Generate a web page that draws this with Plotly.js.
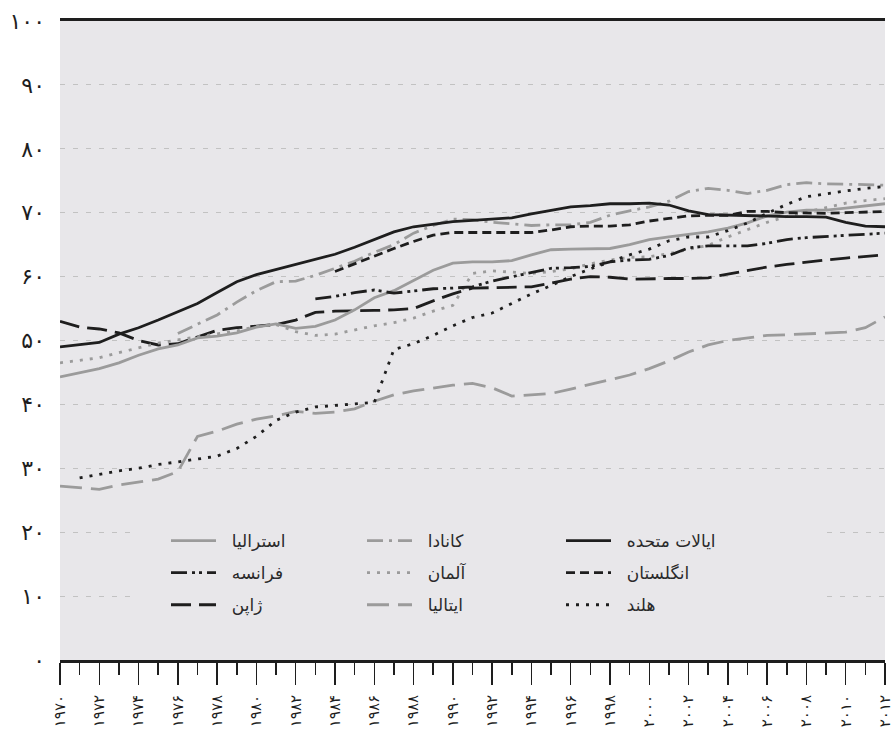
<!DOCTYPE html>
<html>
<head>
<meta charset="utf-8">
<script src="https://cdn.plot.ly/plotly-3.0.1.min.js"></script>
<style>
  html, body { margin: 0; padding: 0; background: #ffffff; }
  #chart { width: 893px; height: 742px; }
</style>
</head>
<body>
<div id="chart"></div>
<script>
// ---- Data ----
const years = [1970,1971,1972,1973,1974,1975,1976,1977,1978,1979,
               1980,1981,1982,1983,1984,1985,1986,1987,1988,1989,
               1990,1991,1992,1993,1994,1995,1996,1997,1998,1999,
               2000,2001,2002,2003,2004,2005,2006,2007,2008,2009,
               2010,2011,2012];

const australia = [44.3,44.9,45.6,46.5,47.7,48.7,49.3,50.4,50.7,51.2,
                   52.1,52.6,51.9,52.2,53.2,54.8,56.7,57.8,59.4,61.0,
                   62.1,62.3,62.3,62.5,63.4,64.2,64.3,64.3,64.4,65.0,
                   65.8,66.2,66.6,67.0,67.6,68.4,69.5,70.1,70.4,70.4,
                   70.7,71.1,71.4];
const canada = [null,null,null,null,null,null,51.1,52.6,54.0,56.0,
                57.8,59.2,59.3,60.2,61.3,62.4,63.8,65.0,66.8,68.0,
                69.0,68.9,68.5,68.2,68.0,68.1,68.1,68.5,69.6,70.3,
                70.9,71.8,73.3,73.8,73.5,73.0,73.5,74.4,74.7,74.5,
                74.5,74.4,74.3];
const usa = [49.0,49.3,49.7,51.0,52.0,53.2,54.5,55.8,57.5,59.2,
             60.3,61.1,61.8,62.6,63.5,64.6,65.8,67.0,67.8,68.2,
             68.6,68.8,69.0,69.2,69.8,70.4,70.9,71.1,71.4,71.4,
             71.5,71.2,70.3,69.7,69.6,69.5,69.4,69.4,69.4,69.3,
             68.5,67.9,67.8];
const france = [null,null,null,null,null,null,null,null,null,null,
                null,null,null,56.5,56.9,57.5,57.9,57.4,57.8,58.1,
                58.2,58.4,59.3,60.0,60.7,61.3,61.4,61.6,62.3,62.6,
                62.7,63.3,64.5,64.8,64.8,64.8,65.2,65.8,66.1,66.3,
                66.5,66.6,66.8];
const germany = [46.5,46.9,47.3,48.1,48.9,49.6,50.1,50.6,51.0,51.5,
                 52.2,52.5,51.4,50.8,51.0,51.7,52.3,52.8,53.5,54.6,
                 55.5,60.5,60.9,60.7,60.5,60.8,61.2,62.0,62.6,63.0,
                 63.1,63.6,64.2,64.9,66.2,67.4,68.5,69.4,70.1,70.8,
                 71.5,71.9,72.2];
const uk = [null,null,null,null,null,null,null,null,null,null,
            null,null,null,null,60.8,62.0,63.3,64.4,65.5,66.5,
            66.9,66.9,66.9,66.9,66.9,67.3,67.8,67.9,67.9,68.1,
            68.7,69.1,69.5,69.6,69.6,70.2,70.2,70.0,69.9,69.9,
            70.0,70.1,70.2];
const japan = [53.0,52.1,51.8,51.2,50.0,49.3,49.5,50.6,51.6,52.0,
               52.2,52.5,53.2,54.4,54.6,54.6,54.7,54.8,55.0,56.2,
               57.3,58.2,58.3,58.3,58.4,59.0,59.6,60.0,59.9,59.6,
               59.7,59.7,59.7,59.8,60.4,61.0,61.5,61.9,62.3,62.6,
               62.9,63.2,63.4];
const italy = [27.2,26.9,26.7,27.4,27.9,28.3,29.5,35.0,35.8,36.9,
               37.7,38.2,38.9,38.6,38.8,39.3,40.5,41.5,42.1,42.6,
               43.0,43.3,42.6,41.3,41.5,41.7,42.4,43.1,43.8,44.6,
               45.6,46.8,48.2,49.3,50.0,50.4,50.8,50.9,51.0,51.2,
               51.3,52.0,53.7];
const netherlands = [null,28.5,29.1,29.6,30.0,30.6,31.0,31.4,31.9,33.1,
                     35.0,37.5,38.8,39.6,39.8,40.0,40.3,48.6,49.5,50.8,
                     52.3,53.6,54.3,55.8,57.3,58.6,60.0,61.2,62.3,63.4,
                     64.3,65.6,66.2,66.2,67.2,68.4,69.9,71.3,72.5,73.0,
                     73.4,73.8,74.1];

const seriesNames = ['استرالیا','کانادا','ایالات متحده','فرانسه','آلمان','انگلستان','ژاپن','ایتالیا','هلند'];

const xTickVals = [1970,1972,1974,1976,1978,1980,1982,1984,1986,1988,1990,
                   1992,1994,1996,1998,2000,2002,2004,2006,2008,2010,2012];
const xTickText = ['۱۹۷۰','۱۹۷۲','۱۹۷۴','۱۹۷۶','۱۹۷۸','۱۹۸۰','۱۹۸۲','۱۹۸۴','۱۹۸۶','۱۹۸۸','۱۹۹۰',
                   '۱۹۹۲','۱۹۹۴','۱۹۹۶','۱۹۹۸','۲۰۰۰','۲۰۰۲','۲۰۰۴','۲۰۰۶','۲۰۰۸','۲۰۱۰','۲۰۱۲'];
const yTickVals = [0,10,20,30,40,50,60,70,80,90,100];
const yTickText = ['۰','۱۰','۲۰','۳۰','۴۰','۵۰','۶۰','۷۰','۸۰','۹۰','۱۰۰'];

// ---- Styles ----
const BLACK = '#1e1e1e';
const GRAY = '#9b9b9b';
const PLOTBG = '#e8e7ea';
const FONT = 'DejaVu Sans';

function tr(name, y, color, dash, legend, width) {
  return {
    type: 'scatter', mode: 'lines', name: '\u00a0\u00a0' + name, x: years, y: y,
    line: {color: color, width: width || 2.8, dash: dash},
    legend: legend, legendgroup: name, connectgaps: false,
    hoverinfo: 'x+y+name'
  };
}

const data = [
  tr(seriesNames[7], italy, GRAY, '22px,9px', 'legend2'),
  tr(seriesNames[6], japan, BLACK, '20px,8px', 'legend'),
  tr(seriesNames[0], australia, GRAY, 'solid', 'legend'),
  tr(seriesNames[4], germany, GRAY, '3px,7px', 'legend2'),
  tr(seriesNames[1], canada, GRAY, '16px,6px,3px,6px', 'legend2'),
  tr(seriesNames[3], france, BLACK, '16px,5px,3px,4px,3px,5px', 'legend'),
  tr(seriesNames[5], uk, BLACK, '9px,5px', 'legend3'),
  tr(seriesNames[8], netherlands, BLACK, '3px,7px', 'legend3'),
  tr(seriesNames[2], usa, BLACK, 'solid', 'legend3')
];

// legend column order (top to bottom)
const order = {
  legend: [seriesNames[0], seriesNames[3], seriesNames[6]],
  legend2: [seriesNames[1], seriesNames[4], seriesNames[7]],
  legend3: [seriesNames[2], seriesNames[5], seriesNames[8]]
};
data.forEach(t => { t.legendrank = order[t.legend].indexOf(t.legendgroup) + 1; });

function legendBox(xpx) {
  return {
    x: (xpx - 60) / 825, xanchor: 'left',
    y: (660 - 523) / 639, yanchor: 'top',
    bgcolor: 'rgba(0,0,0,0)', borderwidth: 0,
    font: {family: FONT, size: 17, color: '#2a2a2a'},
    tracegroupgap: 7, itemwidth: 45, traceorder: 'grouped'
  };
}

const layout = {
  width: 893, height: 742,
  margin: {l: 60, r: 8, t: 21, b: 82, pad: 0},
  paper_bgcolor: '#ffffff',
  plot_bgcolor: PLOTBG,
  font: {family: FONT, color: BLACK, size: 16},
  showlegend: true,
  legend: legendBox(166),
  legend2: legendBox(362),
  legend3: legendBox(561),
  xaxis: {
    range: [1970, 2012],
    tickmode: 'array', tickvals: xTickVals, ticktext: xTickText,
    tickangle: -90, ticklabeloverflow: 'allow', ticklabelstandoff: 4,
    tickfont: {family: FONT, size: 15, color: BLACK},
    ticks: 'outside', ticklen: 22, tickwidth: 1.5, tickcolor: BLACK,
    minor: {tickmode: 'linear', tick0: 1970, dtick: 1, ticks: 'outside',
            ticklen: 12, tickwidth: 1.5, tickcolor: BLACK, showgrid: false},
    showline: true, linewidth: 3, linecolor: BLACK, mirror: true,
    showgrid: false, zeroline: false, fixedrange: true
  },
  yaxis: {
    range: [0, 100],
    tickmode: 'array', tickvals: yTickVals, ticktext: yTickText,
    tickfont: {family: FONT, size: 22, color: BLACK},
    ticks: '', ticklabelstandoff: 14,
    showgrid: true, gridcolor: '#c2c2c2', gridwidth: 1, griddash: '5px,8px',
    showline: false, zeroline: false, fixedrange: true
  },
  shapes: [{
    type: 'rect', xref: 'paper', yref: 'paper', layer: 'above',
    x0: (130 - 60) / 825, x1: (823 - 60) / 825,
    y0: (660 - 620) / 639, y1: (660 - 520) / 639,
    fillcolor: PLOTBG, line: {width: 0}
  }]
};

Plotly.newPlot('chart', data, layout, {displayModeBar: false, staticPlot: true});
</script>
</body>
</html>
